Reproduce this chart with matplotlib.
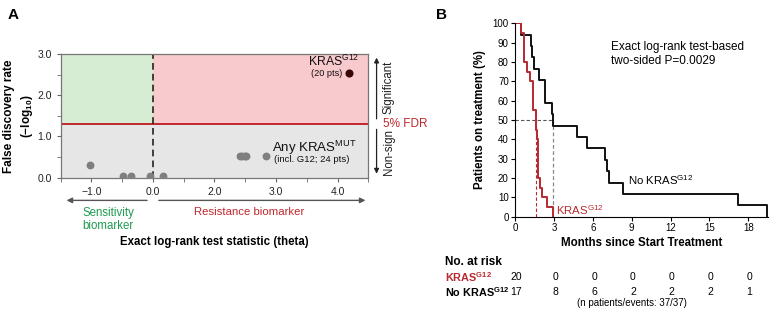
import matplotlib
matplotlib.use("Agg")
import matplotlib.pyplot as plt
import matplotlib.transforms as mtransforms
import numpy as np

plt.rcParams['font.family'] = ['Liberation Sans', 'DejaVu Sans']
plt.rcParams['mathtext.fontset'] = 'custom'
plt.rcParams['mathtext.rm'] = 'Liberation Sans'
plt.rcParams['mathtext.bf'] = 'Liberation Sans:bold'

# ---- panel A data (x in displayed axis units) ----
fdr_cut = 1.30
g12_x = [3.18]
g12_y = [2.53]
other_x = [-1.03, -0.48, -0.35, -0.04, 0.17, 1.41, 1.45, 1.49, 1.52, 1.84]
other_y = [0.30, 0.04, 0.04, 0.03, 0.03, 0.53, 0.53, 0.53, 0.53, 0.53]
xtick_pos = [-1.0, 0.0, 1.0, 2.0, 3.0]
xtick_lab = ["\u22121.0", "0.0", "2.0", "3.0", "4.0"]

# ---- panel B data: event times (months) and number of events ----
red_times = [0.44, 0.69, 0.95, 1.16, 1.35, 1.60, 1.68, 1.80, 1.95, 2.05, 2.45, 2.91]
red_events = [1, 3, 1, 1, 3, 2, 1, 4, 1, 1, 1, 1]
blk_times = [0.44, 1.21, 1.34, 1.49, 1.88, 2.31, 2.88, 2.96, 4.81, 5.53, 6.94, 7.07, 7.28, 8.36, 17.18, 19.42]
blk_events = [1, 1, 1, 1, 1, 2, 1, 1, 1, 1, 1, 1, 1, 1, 1, 1]
red_median = 1.62
blk_median = 2.90
risk_months = [0, 3, 6, 9, 12, 15, 18]
risk_red = [20, 0, 0, 0, 0, 0, 0]
risk_blk = [17, 8, 6, 2, 2, 2, 1]

RED = "#c0272d"
KMRED = "#b8292f"
GREEN = "#1f9a52"

fig = plt.figure(figsize=(7.74, 3.11), dpi=100)

# ================= Panel A =================
ax = fig.add_axes([0.0784, 0.4286, 0.3974, 0.3977])
ax.set_xlim(-1.5, 3.5)
ax.set_ylim(0, 3.0)
ax.fill_between([-1.5, 0], fdr_cut, 3.0, color="#d6ecd3", lw=0, zorder=0)
ax.fill_between([0, 3.5], fdr_cut, 3.0, color="#f8c9cd", lw=0, zorder=0)
ax.fill_between([-1.5, 3.5], 0, fdr_cut, color="#e6e6e6", lw=0, zorder=0)
ax.axhline(fdr_cut, color=RED, lw=1.4, zorder=1)
ax.axvline(0, color="#222222", lw=1.2, ls=(0, (4, 2.5)), zorder=2)
ax.scatter(other_x, other_y, s=32, color="#7f7f7f", zorder=3, lw=0)
ax.scatter(g12_x, g12_y, s=34, color="#3a0505", zorder=3, lw=0)

ax.set_xticks(xtick_pos)
ax.set_xticklabels(xtick_lab, fontsize=7.5)
ax.set_xticks(np.arange(-1.5, 3.51, 0.5), minor=True)
ax.set_yticks([0, 1, 2, 3])
ax.set_yticklabels(["0.0", "1.0", "2.0", "3.0"], fontsize=7.5)
ax.set_yticks([0.5, 1.5, 2.5], minor=True)
ax.tick_params(which="both", direction="out", length=3, color="#666666", labelcolor="#222222")
for s in ax.spines.values():
    s.set_color("#777777")
    s.set_linewidth(0.9)

ax.text(3.36, 2.82, r"KRAS$^{\mathrm{G12}}$", fontsize=8.8, ha="right", va="center", color="#111111")
ax.text(3.08, 2.52, "(20 pts)", fontsize=6.6, ha="right", va="center", color="#111111")
ax.text(1.93, 0.73, r"Any KRAS$^{\mathrm{MUT}}$", fontsize=9.5, ha="left", va="center", color="#111111")
ax.text(1.97, 0.43, "(incl. G12; 24 pts)", fontsize=6.8, ha="left", va="center", color="#111111")

ax.set_ylabel("False discovery rate\n(\u2212log$_{\\mathbf{10}}$)",
              fontsize=8.5, fontweight="bold", linespacing=1.4)
ax.yaxis.set_label_coords(-0.082, 0.5)
ax.set_xlabel("Exact log-rank test statistic (theta)", fontsize=8.3, fontweight="bold", labelpad=28)

# arrows and labels below the x axis
ax.annotate("", xy=(-1.45, -0.55), xytext=(-0.05, -0.55), xycoords="data",
            arrowprops=dict(arrowstyle="-|>", color="#555555", lw=1.0, mutation_scale=8),
            annotation_clip=False)
ax.annotate("", xy=(3.5, -0.55), xytext=(0.05, -0.55), xycoords="data",
            arrowprops=dict(arrowstyle="-|>", color="#555555", lw=1.0, mutation_scale=8),
            annotation_clip=False)
ax.text(-1.15, -0.72, "Sensitivity\nbiomarker", fontsize=8.3, color=GREEN, ha="left", va="top",
        linespacing=1.1)
ax.text(1.56, -0.72, "Resistance biomarker", fontsize=8.2, color=RED, ha="center", va="top")

# right-hand significance arrows
tr = mtransforms.blended_transform_factory(ax.transAxes, ax.transData)
ax.annotate("", xy=(1.027, 2.98), xytext=(1.027, 1.36), xycoords=tr, textcoords=tr,
            arrowprops=dict(arrowstyle="-|>", color="#222222", lw=0.9, mutation_scale=7),
            annotation_clip=False)
ax.annotate("", xy=(1.027, 0.03), xytext=(1.027, 1.24), xycoords=tr, textcoords=tr,
            arrowprops=dict(arrowstyle="-|>", color="#222222", lw=0.9, mutation_scale=7),
            annotation_clip=False)
ax.text(1.066, 2.2, "Significant", transform=tr, rotation=90, fontsize=8.3, ha="center", va="center",
        color="#222222")
ax.text(1.047, fdr_cut, "5% FDR", transform=tr, fontsize=8.5, ha="left", va="center", color=RED)
ax.text(1.066, 0.62, "Non-sign", transform=tr, rotation=90, fontsize=8.3, ha="center", va="center",
        color="#222222")

fig.text(0.010, 0.975, "A", fontsize=11, fontweight="bold", ha="left", va="top")
fig.text(0.563, 0.975, "B", fontsize=11, fontweight="bold", ha="left", va="top")

# ================= Panel B =================
bx = fig.add_axes([0.6654, 0.3032, 0.3265, 0.6219])


def km(times, events):
    n = sum(events)
    t = [0.0] + list(times)
    left = n - np.cumsum(events)
    s = [100.0] + list(100.0 * left / n)
    return t, s


bt, bs = km(blk_times, blk_events)
rt, rs = km(red_times, red_events)
bx.plot([0, blk_median], [50, 50], color="#555555", lw=0.8, ls=(0, (3, 2)))
bx.plot([blk_median, blk_median], [0, 50], color="#888888", lw=0.9, ls=(0, (3, 2)))
bx.plot([red_median, red_median], [0, 50], color=KMRED, lw=0.8, ls=(0, (3, 2)))
bx.step(bt, bs, where="post", color="#111111", lw=1.4)
bx.step(rt, rs, where="post", color=KMRED, lw=1.4)

bx.set_xlim(0, 19.5)
bx.set_ylim(0, 100)
bx.set_xticks(risk_months)
bx.set_yticks(np.arange(0, 101, 10))
bx.tick_params(labelsize=7, length=3, pad=1.5)
bx.spines["top"].set_visible(False)
bx.spines["right"].set_visible(False)
bx.set_xlabel("Months since Start Treatment", fontsize=8.3, fontweight="bold", labelpad=3)
bx.set_ylabel("Patients on treatment (%)", fontsize=8.3, fontweight="bold", labelpad=5)

bx.text(7.4, 84, "Exact log-rank test-based\ntwo-sided P=0.0029", fontsize=8.5, ha="left", va="center",
        linespacing=1.25)
bx.text(8.7, 19, r"No KRAS$^{\mathrm{G12}}$", fontsize=8.2, ha="left", va="center")
bx.text(3.2, 3.5, r"KRAS$^{\mathrm{G12}}$", fontsize=8.2, ha="left", va="center", color=KMRED)

# at-risk table
tb = mtransforms.blended_transform_factory(bx.transData, fig.transFigure)
fig.text(0.575, 0.1585, "No. at risk", fontsize=8.5, fontweight="bold", ha="left", va="center")
fig.text(0.575, 0.110, r"KRAS$^{\mathbf{G12}}$", fontsize=7.8, fontweight="bold", color=KMRED,
         ha="left", va="center")
fig.text(0.575, 0.062, r"No KRAS$^{\mathbf{G12}}$", fontsize=7.8, fontweight="bold", ha="left", va="center")
for m, r, b in zip(risk_months, risk_red, risk_blk):
    bx.text(m + 0.1, 0.110, str(r), transform=tb, fontsize=7.5, ha="center", va="center")
    bx.text(m + 0.1, 0.062, str(b), transform=tb, fontsize=7.5, ha="center", va="center")
bx.text(9.0, 0.026, "(n patients/events: 37/37)", transform=tb, fontsize=7, ha="center", va="center")

fig.savefig("out.png", dpi=100)
